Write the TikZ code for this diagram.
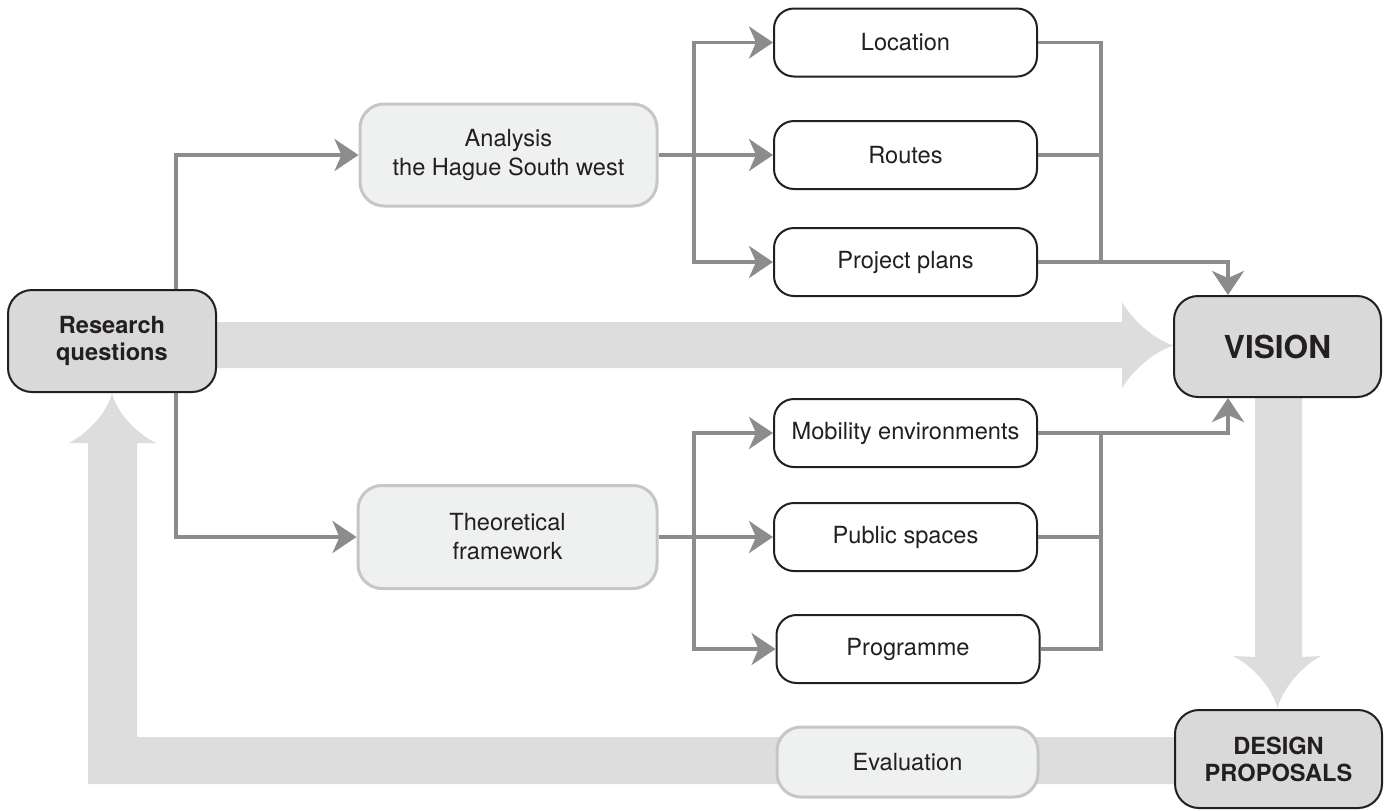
\documentclass[tikz,border=0pt]{standalone}
\usepackage{fontspec}
\setmainfont{TeX Gyre Heros}
\usetikzlibrary{arrows.meta}
\pgfdeclarelayer{bg}
\pgfsetlayers{bg,main}
\definecolor{bandcol}{HTML}{DDDDDD}
\definecolor{darkfill}{HTML}{D9D9D9}
\definecolor{lightfill}{HTML}{EFF0F0}
\definecolor{lightborder}{HTML}{C6C6C6}
\definecolor{conncol}{HTML}{8C8C8C}
\definecolor{txt}{HTML}{231F20}
\begin{document}
\begin{tikzpicture}[x=0.5pt,y=-0.5pt,
  darkbox/.style={draw=txt, line width=1pt, fill=darkfill, rounded corners=12pt,
    inner sep=0pt, align=center, text=txt,
    font=\bfseries\fontsize{11.8}{13.5}\selectfont},
  lightbox/.style={draw=lightborder, line width=1.5pt, fill=lightfill, rounded corners=12pt,
    inner sep=0pt, align=center, text=txt,
    font=\fontsize{11.8}{14.5}\selectfont},
  whitebox/.style={draw=txt, line width=1pt, fill=white, rounded corners=10pt,
    inner sep=0pt, align=center, text=txt, minimum width=131.5pt, minimum height=34pt,
    font=\fontsize{11.8}{14}\selectfont},
  plain/.style={draw=conncol, line width=1.8pt},
  conn/.style={draw=conncol, line width=1.8pt, -{Stealth[length=12pt,width=16pt,inset=3.5pt]}},
  band/.style={fill=bandcol}
]
\useasboundingbox (0,0) rectangle (1388,810);

% main boxes
\node[darkbox, minimum width=104pt, minimum height=51pt] (RQ) at (112,341) {Research\\questions};
\node[darkbox, minimum width=103.5pt, minimum height=50.5pt, font=\bfseries\fontsize{15.8}{18}\selectfont] (VIS) at (1277.5,346.5) {VISION};
\node[darkbox, minimum width=103.5pt, minimum height=49pt] (DES) at (1278.5,759) {DESIGN\\PROPOSALS};

\node[lightbox, minimum width=148.5pt, minimum height=51pt] (AN) at (508.5,155) {Analysis\\the Hague South west};
\node[lightbox, minimum width=149.5pt, minimum height=51.5pt] (TF) at (507.5,537) {Theoretical\\framework};
\node[lightbox, minimum width=130.5pt, minimum height=35pt] (EVA) at (907.5,762) {Evaluation};

\node[whitebox] (LOC) at (905.5,42.5) {Location};
\node[whitebox] (ROU) at (905.5,155) {Routes};
\node[whitebox] (PP) at (905.5,262) {Project plans};
\node[whitebox] (MOB) at (905.5,433) {Mobility environments};
\node[whitebox] (PUB) at (905.5,537) {Public spaces};
\node[whitebox] (PRG) at (908,649) {Programme};

% junction coordinates
\coordinate (jl) at (176,0);
\coordinate (ja) at (694,0);
\coordinate (jr1) at (1101,262);
\coordinate (jr2) at (1101,433);
\coordinate (va) at (1228,0);

% connectors
\draw[conn] (RQ.north -| jl) |- (AN.west);
\draw[conn] (RQ.south -| jl) |- (TF.west);

\draw[conn] (AN.east) -- (ROU.west);
\draw[conn] (AN.east -| ja) |- (LOC.west);
\draw[conn] (AN.east -| ja) |- (PP.west);

\draw[conn] (TF.east) -- (PUB.west);
\draw[conn] (TF.east -| ja) |- (MOB.west);
\draw[conn] (TF.east -| ja) |- (PRG.west);

\draw[plain] (LOC.east) -| (jr1);
\draw[plain] (ROU.east) -- (ROU.east -| jr1);
\draw[conn] (PP.east) -| (VIS.north -| va);

\draw[plain] (PRG.east) -| (jr2);
\draw[plain] (PUB.east) -- (PUB.east -| jr2);
\draw[conn] (MOB.east) -| (VIS.south -| va);

% wide background arrows
\begin{pgfonlayer}{bg}
\fill[band] (216,322) -- (1122,322) -- (1122,302)
  .. controls (1134,322) and (1155,340) .. (1174,345.5)
  .. controls (1155,351) and (1134,369) .. (1122,388)
  -- (1122,368) -- (216,368) -- cycle;
\fill[band] (1255,397) -- (1255,657) -- (1233,656)
  .. controls (1253,666) and (1272,688) .. (1277.5,708)
  .. controls (1283,688) and (1302,666) .. (1321,656)
  -- (1302,657) -- (1302,397) -- cycle;
\fill[band] (1176,737) -- (137,737) -- (137,443) -- (156,443)
  .. controls (136,433) and (117,413) .. (112,393)
  .. controls (107,413) and (88,433) .. (69,443)
  -- (88,443) -- (88,784) -- (1176,784) -- cycle;
\end{pgfonlayer}
\end{tikzpicture}
\end{document}
